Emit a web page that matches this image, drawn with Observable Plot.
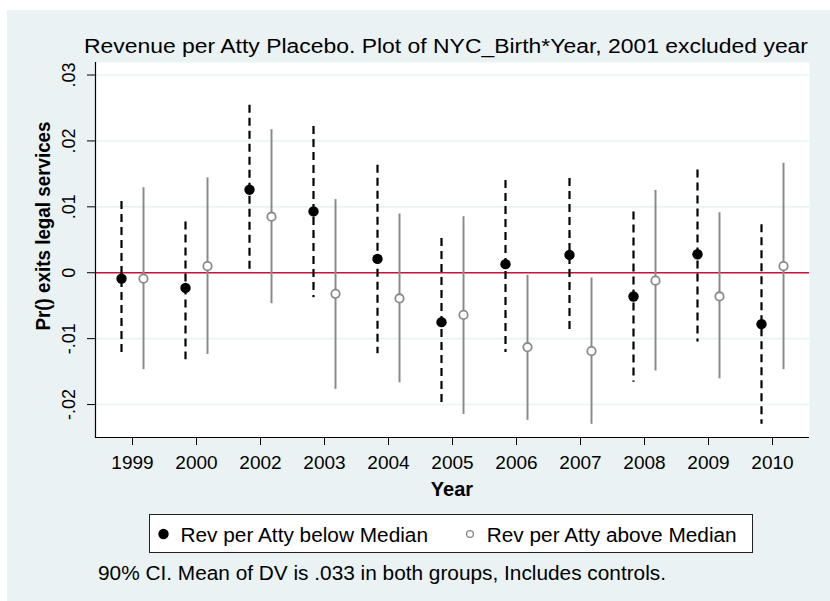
<!DOCTYPE html>
<html>
<head>
<meta charset="utf-8">
<script src="https://cdn.jsdelivr.net/npm/d3@7"></script>
<script src="https://cdn.jsdelivr.net/npm/@observablehq/plot@0.6"></script>
<style>
  html, body { margin: 0; padding: 0; background: #ffffff; }
  #wrap { position: relative; width: 830px; height: 601px; overflow: hidden; }
  #panel { position: absolute; left: 7px; top: 10px; width: 823px; height: 591px; background: #eaf2f3; }
  #chart { position: absolute; left: 0; top: 0; }
</style>
</head>
<body>
<div id="wrap"><div id="panel"></div><div id="chart"></div></div>
<script>
// Years in the estimation (2001 left out)
const years = ["1999", "2000", "2002", "2003", "2004", "2005", "2006", "2007", "2008", "2009", "2010"];

// Firms with revenue per attorney below the median: estimate and 90% CI
const belowEst = [-0.0009, -0.0023, 0.0126, 0.0093, 0.0021, -0.0075, 0.0013, 0.0027, -0.0036, 0.0028, -0.0078];
const belowLo  = [-0.0126, -0.0132, 0.0000, -0.0038, -0.0123, -0.0202, -0.0121, -0.0091, -0.0166, -0.0105, -0.0230];
const belowHi  = [0.0108, 0.0077, 0.0254, 0.0222, 0.0163, 0.0052, 0.0140, 0.0143, 0.0092, 0.0156, 0.0073];

// Firms with revenue per attorney above the median: estimate and 90% CI
const aboveEst = [-0.0009, 0.0010, 0.0085, -0.0032, -0.0039, -0.0064, -0.0113, -0.0119, -0.0012, -0.0036, 0.0010];
const aboveLo  = [-0.0147, -0.0124, -0.0047, -0.0177, -0.0167, -0.0215, -0.0224, -0.0230, -0.0149, -0.0161, -0.0147];
const aboveHi  = [0.0129, 0.0144, 0.0217, 0.0111, 0.0089, 0.0085, -0.0004, -0.0008, 0.0125, 0.0091, 0.0166];

const yTicks = [-0.02, -0.01, 0, 0.01, 0.02, 0.03];
const yTickLabels = ["-.02", "-.01", "0", ".01", ".02", ".03"];
const yDomain = [-0.0250, 0.0319];

const titleText = "Revenue per Atty Placebo. Plot of NYC_Birth*Year, 2001 excluded year";
const yLabel = "Pr() exits legal services";
const xLabel = "Year";
const seriesNames = ["Rev per Atty below Median", "Rev per Atty above Median"];
const noteText = "90% CI. Mean of DV is .033 in both groups, Includes controls.";

const below = years.map((year, i) => ({year, est: belowEst[i], lo: belowLo[i], hi: belowHi[i]}));
const above = years.map((year, i) => ({year, est: aboveEst[i], lo: aboveLo[i], hi: aboveHi[i]}));

const FONT = "'Liberation Sans', Arial, sans-serif";
const bg = "#eaf2f3";
const grey = "#8a8a8a";
const red = "#c8143c";

const chart = Plot.plot({
  width: 830,
  height: 601,
  marginLeft: 95,
  marginRight: 21,
  marginTop: 62,
  marginBottom: 164,
  style: {background: "transparent", fontFamily: FONT, fontSize: "19px", color: "#000"},
  x: {type: "band", domain: years, padding: 0},
  y: {domain: yDomain},
  marks: [
    Plot.frame({fill: "white", stroke: null}),
    Plot.gridY(yTicks, {stroke: bg, strokeOpacity: 1, strokeWidth: 1.6}),
    Plot.ruleY([0], {stroke: red, strokeWidth: 1.6}),
    Plot.ruleX(below, {x: "year", y1: "hi", y2: "lo", dx: -11, stroke: "#000", strokeWidth: 2.2, strokeDasharray: "8,5"}),
    Plot.ruleX(above, {x: "year", y1: "lo", y2: "hi", dx: 11, stroke: grey, strokeWidth: 2}),
    Plot.dot(below, {x: "year", y: "est", dx: -11, r: 5.2, fill: "#000", stroke: null}),
    Plot.dot(above, {x: "year", y: "est", dx: 11, r: 4.2, fill: "white", stroke: grey, strokeWidth: 1.8}),
    Plot.ruleY([yDomain[0]], {stroke: "#000", strokeWidth: 1.2}),
    Plot.frame({anchor: "left", stroke: "#000", strokeWidth: 1.2}),
    Plot.axisY(yTicks, {
      tickSize: 8, tickPadding: 13, tickRotate: -90, fontSize: 18,
      tickFormat: (d) => yTickLabels[yTicks.indexOf(d)], label: null, stroke: "#000"
    }),
    Plot.axisX({tickSize: 8, tickPadding: 10, fontSize: 19, label: null, stroke: "#000"})
  ]
});

document.getElementById("chart").appendChild(chart);

const svg = d3.select(chart);

// Title
svg.append("text")
  .attr("x", 84).attr("y", 53)
  .attr("text-anchor", "start")
  .attr("font-family", FONT).attr("font-size", 20)
  .attr("textLength", 724).attr("lengthAdjust", "spacingAndGlyphs")
  .attr("fill", "#000")
  .text(titleText);

// Y-axis title
svg.append("text")
  .attr("transform", "translate(50,226) rotate(-90)")
  .attr("text-anchor", "middle")
  .attr("font-family", FONT).attr("font-size", 20).attr("font-weight", "bold")
  .attr("textLength", 209).attr("lengthAdjust", "spacingAndGlyphs")
  .attr("fill", "#000")
  .text(yLabel);

// X-axis title
svg.append("text")
  .attr("x", 452).attr("y", 496)
  .attr("text-anchor", "middle")
  .attr("font-family", FONT).attr("font-size", 20).attr("font-weight", "bold")
  .attr("fill", "#000")
  .text(xLabel);

// Legend box
const lg = svg.append("g").attr("text-anchor", "start");
lg.append("rect")
  .attr("x", 149.5).attr("y", 514.5).attr("width", 603).attr("height", 38)
  .attr("fill", "white").attr("stroke", "#222").attr("stroke-width", 1);
lg.append("circle").attr("cx", 163.5).attr("cy", 534).attr("r", 5.2).attr("fill", "#000");
lg.append("text")
  .attr("x", 180.5).attr("y", 541.5)
  .attr("text-anchor", "start")
  .attr("font-family", FONT).attr("font-size", 20)
  .attr("textLength", 247.5).attr("lengthAdjust", "spacingAndGlyphs")
  .text(seriesNames[0]);
lg.append("circle").attr("cx", 470).attr("cy", 534).attr("r", 3.4)
  .attr("fill", "white").attr("stroke", grey).attr("stroke-width", 1.4);
lg.append("text")
  .attr("x", 486.7).attr("y", 541.5)
  .attr("text-anchor", "start")
  .attr("font-family", FONT).attr("font-size", 20)
  .attr("textLength", 250).attr("lengthAdjust", "spacingAndGlyphs")
  .text(seriesNames[1]);

// Note
svg.append("text")
  .attr("x", 98).attr("y", 580)
  .attr("text-anchor", "start")
  .attr("font-family", FONT).attr("font-size", 20)
  .attr("textLength", 568).attr("lengthAdjust", "spacingAndGlyphs")
  .text(noteText);
</script>
</body>
</html>
